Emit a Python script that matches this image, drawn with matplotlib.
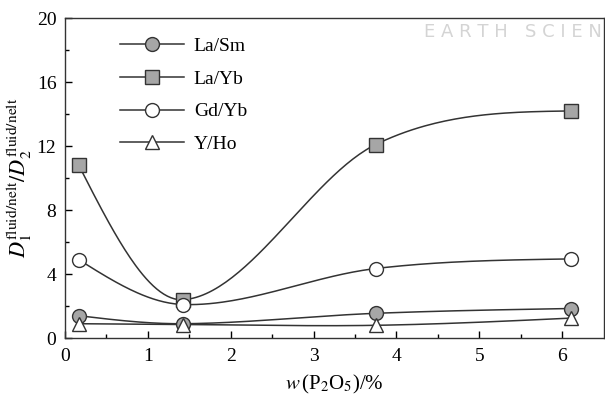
import numpy as np
import matplotlib
matplotlib.use("Agg")
import matplotlib.pyplot as plt
from matplotlib.lines import Line2D

plt.rcParams['font.family'] = ['Liberation Serif', 'DejaVu Serif']
plt.rcParams['mathtext.fontset'] = 'stix'

# data
p2o5 = [0.17, 1.43, 3.75, 6.1]
la_sm = [1.4, 0.9, 1.55, 1.85]
la_yb = [10.8, 2.4, 12.1, 14.2]
gd_yb = [4.9, 2.1, 4.35, 4.95]
y_ho = [0.9, 0.85, 0.8, 1.25]

labels = ['La/Sm', 'La/Yb', 'Gd/Yb', 'Y/Ho']
markers = ['o', 's', 'o', '^']
faces = ['#a6a6a6', '#a6a6a6', 'white', 'white']


def smooth_line(x, y, n=60):
    # cubic hermite through the points (catmull-rom style tangents),
    # only used to draw the smooth connecting line
    x = np.asarray(x, float)
    y = np.asarray(y, float)
    k = len(x)
    d = np.zeros(k)
    for i in range(1, k - 1):
        d[i] = (y[i + 1] - y[i - 1]) / (x[i + 1] - x[i - 1])
    d[0] = (3 * (y[1] - y[0]) / (x[1] - x[0]) - d[1]) / 2
    d[-1] = (3 * (y[-1] - y[-2]) / (x[-1] - x[-2]) - d[-2]) / 2
    xs_all, ys_all = [], []
    for i in range(k - 1):
        h = x[i + 1] - x[i]
        t = np.linspace(0, 1, n)
        h00 = 2 * t ** 3 - 3 * t ** 2 + 1
        h10 = t ** 3 - 2 * t ** 2 + t
        h01 = -2 * t ** 3 + 3 * t ** 2
        h11 = t ** 3 - t ** 2
        xs_all.append(x[i] + t * h)
        ys_all.append(h00 * y[i] + h10 * h * d[i] + h01 * y[i + 1] + h11 * h * d[i + 1])
    return np.concatenate(xs_all), np.concatenate(ys_all)


fig = plt.figure(figsize=(6.05, 4.03), dpi=100)
ax = fig.add_axes([0.107, 0.161, 0.891, 0.794])

handles = []
for vals, lab, mk, fc in zip([la_sm, la_yb, gd_yb, y_ho], labels, markers, faces):
    xs, ys = smooth_line(p2o5, vals)
    ax.plot(xs, ys, color='#333333', lw=1.1, zorder=2)
    ax.plot(p2o5, vals, linestyle='none', marker=mk, ms=10, mfc=fc,
            mec='#333333', mew=1.0, zorder=3)
    handles.append(Line2D([], [], color='#333333', lw=1.1, marker=mk, ms=10,
                          mfc=fc, mec='#333333', mew=1.0, label=lab))

ax.set_xlim(0, 6.5)
ax.set_ylim(0, 20)
ax.set_xticks(range(0, 7))
ax.set_xticks(np.arange(0.5, 6.5, 1), minor=True)
ax.set_yticks(range(0, 21, 4))
ax.set_yticks(range(2, 20, 4), minor=True)
ax.tick_params(which='both', direction='in', top=False, right=False,
               labelsize=14, width=1.0)
ax.tick_params(axis='x', which='major', length=5, pad=7)
ax.tick_params(axis='y', which='major', length=5, pad=6)
ax.tick_params(which='minor', length=3)
for s in ax.spines.values():
    s.set_linewidth(1.0)
    s.set_color('#333333')

ax.set_xlabel(r'$w\,$(P$_2$O$_5$)/%', fontsize=15, labelpad=6)
ax.set_ylabel(r'$D_1^{\rm fluid/nelt}/D_2^{\rm fluid/nelt}$', fontsize=16,
              labelpad=2)

ax.legend(handles=handles, loc='upper left', bbox_to_anchor=(0.07, 0.995),
          frameon=False, fontsize=14, handlelength=3.3, labelspacing=0.78,
          handletextpad=0.5)

# faint watermark in the corner
fig.text(0.995, 0.92, 'E A R T H   S C I E N', ha='right', va='center',
         fontsize=13, color='#d4d4d4', family='DejaVu Sans')

fig.savefig('out.png', dpi=100)
